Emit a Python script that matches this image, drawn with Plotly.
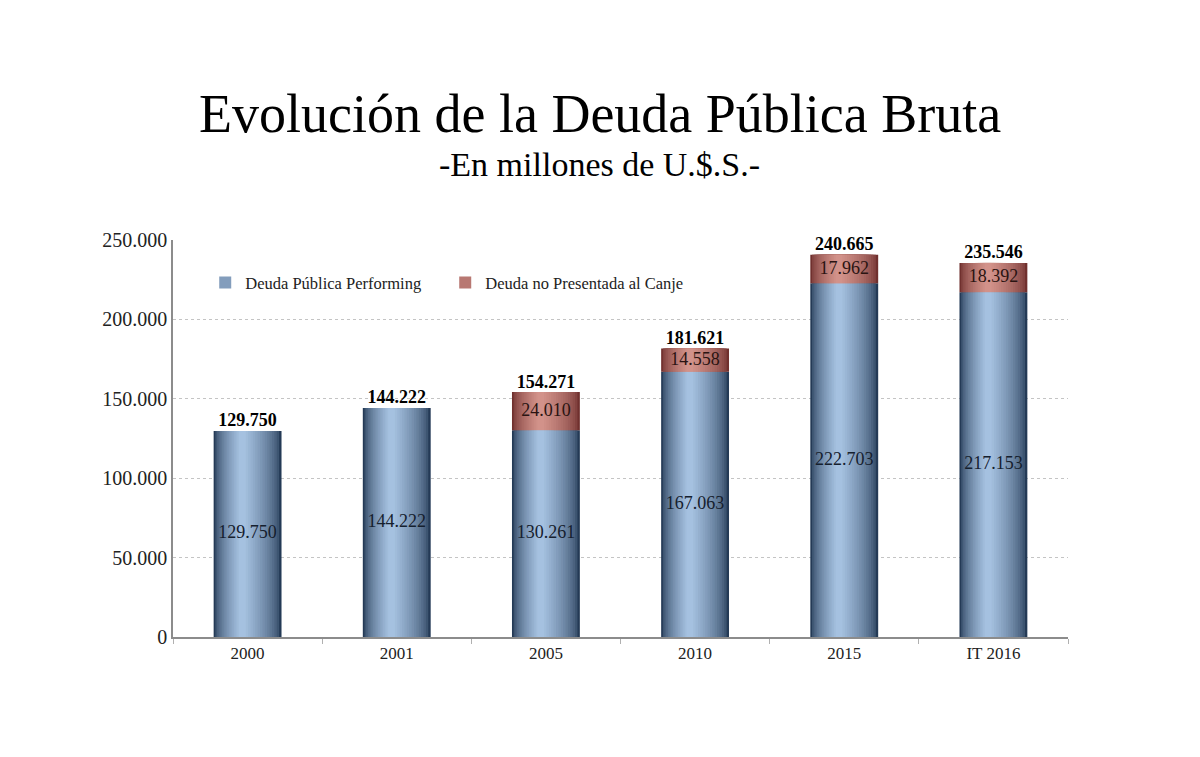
import plotly.graph_objects as go

categories = ["2000", "2001", "2005", "2010", "2015", "IT 2016"]
performing = [129750, 144222, 130261, 167063, 222703, 217153]
canje = [None, None, 24010, 14558, 17962, 18392]
totals = [129750, 144222, 154271, 181621, 240665, 235546]

y_ticks = [0, 50000, 100000, 150000, 200000, 250000]


def fmt(v):
    return f"{v:,}".replace(",", ".")


def mix(c1, c2, t):
    return "rgb({},{},{})".format(*[round(a + (b - a) * t) for a, b in zip(c1, c2)])


serif = "Liberation Serif, Times New Roman, serif"

# cylinder look: stack of narrower, lighter bars drawn on top of each other
blue_edge, blue_mid = (36, 58, 86), (165, 193, 224)
red_edge, red_mid = (112, 48, 46), (210, 146, 138)
full_w = 0.455
n_layers = 16

fig = go.Figure()

for i in range(n_layers):
    t = i / (n_layers - 1)
    w = full_w * (1 - 0.9 * t)
    off = -w / 2 - 0.035 * t
    fig.add_trace(go.Bar(
        x=categories, y=performing, width=w, offset=off,
        marker=dict(color=mix(blue_edge, blue_mid, t ** 0.6), line_width=0),
        name="Deuda Pública Performing", showlegend=(i == 9),
        legendgroup="perf", hoverinfo="skip"
    ))
    fig.add_trace(go.Bar(
        x=categories, y=canje, base=performing, width=w, offset=off,
        marker=dict(color=mix(red_edge, red_mid, t ** 0.6), line_width=0),
        name="Deuda no Presentada al Canje", showlegend=(i == 9),
        legendgroup="canje", hoverinfo="skip"
    ))

# labels inside the segments
fig.add_trace(go.Scatter(
    x=categories, y=[p / 2 for p in performing],
    mode="text", text=[fmt(p) for p in performing],
    textfont=dict(family=serif, size=18, color="#15202e"),
    showlegend=False, hoverinfo="skip"
))
fig.add_trace(go.Scatter(
    x=categories,
    y=[p + c / 2 if c else None for p, c in zip(performing, canje)],
    mode="text", text=[fmt(c) if c else "" for c in canje],
    textfont=dict(family=serif, size=18, color="#2a1412"),
    showlegend=False, hoverinfo="skip"
))

# totals above the bars
fig.add_trace(go.Scatter(
    x=categories, y=totals,
    mode="text", text=["<b>" + fmt(t) + "</b>" for t in totals],
    textposition="top center",
    textfont=dict(family=serif, size=18, color="#000000"),
    cliponaxis=False, showlegend=False, hoverinfo="skip"
))

fig.add_annotation(
    text="Evolución de la Deuda Pública Bruta",
    xref="paper", yref="paper", x=0.477, y=1.318,
    xanchor="center", yanchor="middle", showarrow=False,
    font=dict(family=serif, size=54, color="#000000")
)
fig.add_annotation(
    text="-En millones de U.$.S.-",
    xref="paper", yref="paper", x=0.477, y=1.19,
    xanchor="center", yanchor="middle", showarrow=False,
    font=dict(family=serif, size=34, color="#000000")
)

fig.update_layout(
    width=1200, height=757,
    barmode="overlay",
    paper_bgcolor="white", plot_bgcolor="white",
    margin=dict(l=165, r=140, t=232, b=128),
    font=dict(family=serif, size=18, color="#222222"),
    legend=dict(
        orientation="h", x=0.036, y=0.892, xanchor="left", yanchor="middle",
        font=dict(family=serif, size=16.5, color="#222222"),
        entrywidth=195, bgcolor="rgba(0,0,0,0)"
    ),
    xaxis=dict(
        type="category", showgrid=False,
        showline=True, linecolor="#8c8c8c", linewidth=1.5,
        ticks="outside", tickson="boundaries", ticklen=5, tickcolor="#b0b0b0",
        tickfont=dict(family=serif, size=17, color="#222222")
    ),
    yaxis=dict(
        range=[0, 250000], tickvals=y_ticks,
        ticktext=[fmt(v) for v in y_ticks],
        showgrid=True, gridcolor="#c4c4c4", griddash="dot", gridwidth=1,
        showline=True, linecolor="#8c8c8c", linewidth=1.5,
        zeroline=False,
        tickfont=dict(family=serif, size=20, color="#222222")
    )
)

fig.write_html("out.html")
